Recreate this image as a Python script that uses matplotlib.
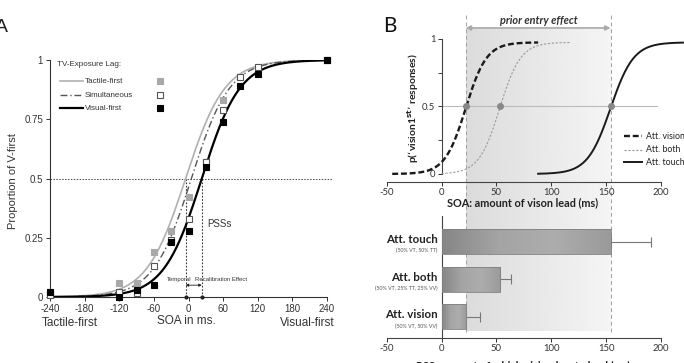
import matplotlib.pyplot as plt
import matplotlib.transforms as mtransforms
from matplotlib.colors import LinearSegmentedColormap
import numpy as np

plt.rcParams['font.family'] = ['Liberation Sans', 'DejaVu Sans']
plt.rcParams['axes.unicode_minus'] = False

# panel A: observed proportions per SOA
soa = [-240, -120, -90, -60, -30, 0, 30, 60, 90, 120, 240]
tactile_first = [0.02, 0.06, 0.06, 0.19, 0.28, 0.42, 0.57, 0.83, 0.93, 0.97, 1.0]
simultaneous = [0.01, 0.02, 0.015, 0.13, 0.24, 0.33, 0.57, 0.79, 0.93, 0.97, 1.0]
visual_first = [0.02, 0.0, 0.03, 0.05, 0.23, 0.28, 0.55, 0.74, 0.89, 0.94, 1.0]
lag_names = ['Tactile-first', 'Simultaneous', 'Visual-first']
pss_a = [-5, 5, 23]
spread_a = [34, 33, 33]

# panel B: PSS per attention condition
conditions = ['Att. vision', 'Att. both', 'Att. touch']
cond_sub = ['(50% VT, 50% VV)', '(50% VT, 25% TT, 25% VV)', '(50% VT, 50% TT)']
pss_b = [22, 53, 154]
err_b = [13, 10, 37]
spread_b = [9.5, 9.5, 10.5]
curve_from = [-45, 0, 88]
curve_to = [88, 118, 220]


def logistic(x, mu, s, top=1.0):
    return top / (1 + np.exp(-(x - mu) / s))


fig = plt.figure(figsize=(6.84, 3.63), dpi=100)

# ---------------- panel A ----------------
ax = fig.add_axes([0.0731, 0.1818, 0.405, 0.6529])
ax.set_xlim(-240, 240)
ax.set_ylim(0, 1)
for s in ['top', 'right']:
    ax.spines[s].set_visible(False)
for s in ['left', 'bottom']:
    ax.spines[s].set_linewidth(0.8)
    ax.spines[s].set_color('#333333')
ax.set_xticks(range(-240, 241, 60))
ax.set_yticks([0, 0.25, 0.5, 0.75, 1])
ax.set_yticklabels(['0', '0.25', '0.5', '0.75', '1'])
ax.tick_params(labelsize=7, colors='#333333', length=3, width=0.7, pad=2)

xs = np.linspace(-240, 240, 400)
styles = [dict(color='#b0b0b0', lw=1.2, ls='-'),
          dict(color='#555555', lw=1.0, ls=(0, (5, 2, 1, 2))),
          dict(color='black', lw=1.6, ls='-')]
mstyles = [dict(marker='s', color='#a8a8a8', mfc='#a8a8a8', mec='#a8a8a8'),
           dict(marker='s', color='#555555', mfc='white', mec='#555555'),
           dict(marker='s', color='black', mfc='black', mec='black')]
data_a = [tactile_first, simultaneous, visual_first]
for i in range(3):
    ax.plot(xs, logistic(xs, pss_a[i], spread_a[i]), zorder=3, **styles[i])
    ax.plot(soa, data_a[i], ls='none', ms=4, mew=0.8, clip_on=False, zorder=4, **mstyles[i])

ax.plot([-240, 248], [0.5, 0.5], ls=(0, (1.5, 1.5)), color='#444444', lw=0.7, clip_on=False)
for p in [pss_a[0], pss_a[2]]:
    ax.plot([p, p], [0, 0.5], ls=(0, (1.5, 1.5)), color='#333333', lw=0.8)
    ax.plot([p], [0], marker='o', ms=2, color='#222222', clip_on=False, zorder=5)
ax.annotate('', xy=(pss_a[2], 0.05), xytext=(pss_a[0], 0.05),
            arrowprops=dict(arrowstyle='<|-|>', color='#222222', lw=0.6,
                            mutation_scale=4, shrinkA=0, shrinkB=0))
ax.text(-38, 0.075, 'Temporal', fontsize=4.3, color='#333333', va='center')
ax.text(12, 0.075, 'Recalibration Effect', fontsize=4.3, color='#333333', va='center')
ax.text(33, 0.31, 'PSSs', fontsize=7, color='#333333', va='center')

# legend drawn by hand
ax.text(-228, 0.979, 'TV-Exposure Lag:', fontsize=5.8, color='#333333', va='center')
for i, yy in enumerate([0.911, 0.852, 0.797]):
    ax.plot([-222, -183], [yy, yy], **styles[i])
    ax.text(-180, yy, lag_names[i], fontsize=5.8, color='#333333', va='center')
    ax.plot([-49], [yy], ms=4, mew=0.8, **mstyles[i])

fig.text(13 / 684, 1 - 181 / 363, 'Proportion of V-first', rotation=90,
         fontsize=8, color='#333333', ha='center', va='center')
fig.text(186 / 684, 1 - 321 / 363, 'SOA in ms.', fontsize=8.5, color='#333333',
         ha='center', va='center')
fig.text(42 / 684, 1 - 323 / 363, 'Tactile-first', fontsize=8.5, color='#333333', va='center')
fig.text(335 / 684, 1 - 323 / 363, 'Visual-first', fontsize=8.5, color='#333333',
         ha='right', va='center')
fig.text(-5 / 684, 1 - 27 / 363, 'A', fontsize=14, color='#222222', va='center')

# ---------------- panel B ----------------
bfont = ['Lato', 'DejaVu Sans']
axt = fig.add_axes([0.5654, 0.5207, 0.401, 0.3719], zorder=2)
axb = fig.add_axes([0.5654, 0.0689, 0.401, 0.336], zorder=2)
for a in [axt, axb]:
    a.set_facecolor('none')
    for s in ['top', 'right']:
        a.spines[s].set_visible(False)
    a.spines['left'].set_position(('data', 0))
    a.spines['left'].set_linewidth(0.8)
    a.spines['bottom'].set_linewidth(0.8)
    a.spines['left'].set_color('#444444')
    a.spines['bottom'].set_color('#444444')
    a.set_xticks(range(-50, 201, 50))
    a.tick_params(labelsize=6.8, colors='#333333', length=3, width=0.7, pad=1.5)

# top: psychometric curves
axt.spines['bottom'].set_position(('outward', 5.5))
axt.spines['left'].set_bounds(0, 1)
axt.set_yticks([0, 0.5, 1])
axt.set_yticklabels(['0', '0.5', '1'])
axt.set_yticks([0.25, 0.75], minor=True)
axt.tick_params(axis='y', which='minor', length=3, width=0.7, colors='#444444')

bstyles = [dict(color='#1a1a1a', lw=1.7, ls=(0, (2.5, 1.2))),
           dict(color='#9a9a9a', lw=0.8, ls=(0, (2, 1.5))),
           dict(color='#1a1a1a', lw=1.4, ls='-')]
axt.plot([0, 196], [0.5, 0.5], color='#bbbbbb', lw=0.8, clip_on=False, zorder=1)
for i in range(3):
    xx = np.linspace(curve_from[i], curve_to[i], 300)
    axt.plot(xx, logistic(xx, pss_b[i], spread_b[i], 0.975), clip_on=False, zorder=3, **bstyles[i])
    axt.plot([pss_b[i]], [0.5], marker='o', ms=4, color='#888888', zorder=4)
for i, yy in enumerate([0.281, 0.18, 0.087]):
    axt.plot([166, 183], [yy, yy], **bstyles[i])
    axt.text(186, yy, conditions[i], fontsize=6.3, family=bfont, color='#222222', va='center')
axt.set_xlim(-50, 200)
axt.set_ylim(0, 1)

fig.text(413 / 684, 1 - 108 / 363, 'p(\u2018vision1$^{\\mathbf{st}}$\u2019 responses)', rotation=90,
         fontsize=7.5, fontweight='bold', family=bfont, color='#222222', ha='center', va='center')
fig.text(523 / 684, 1 - 203 / 363, 'SOA: amount of vison lead (ms)', fontsize=7.8,
         fontweight='bold', family=bfont, color='#222222', ha='center', va='center')

# bottom: PSS bars with a grey shading inside
ypos = np.arange(3)
bar_cmap = LinearSegmentedColormap.from_list('bar', ['#868686', '#a4a4a4', '#adadad', '#9a9a9a'])
bars = axb.barh(ypos, pss_b, height=0.67, color='none', edgecolor='#808080', lw=0.6, zorder=4)
for b in bars:
    im = axb.imshow(np.linspace(0, 1, 256).reshape(1, -1), cmap=bar_cmap, aspect='auto',
                    extent=[b.get_x(), b.get_x() + b.get_width(), b.get_y(), b.get_y() + b.get_height()],
                    zorder=3)
    im.set_clip_path(b)
axb.errorbar(np.array(pss_b), ypos, xerr=[np.zeros(3), err_b], fmt='none',
             ecolor='#777777', elinewidth=0.8, capsize=3.5, capthick=0.8, zorder=2)
for i in range(3):
    axb.text(-3.6, ypos[i] + 0.05, conditions[i], fontsize=8.3, fontweight='bold', family=bfont,
             color='#222222', ha='right', va='center')
    axb.text(-3.6, ypos[i] - 0.25, cond_sub[i], fontsize=3.8, family=bfont,
             color='#555555', ha='right', va='center')
axb.set_xlim(-50, 200)
axb.set_ylim(-0.568, 2.68)
axb.set_yticks([])
axb.spines['bottom'].set_bounds(-50, 200)
fig.text(523 / 684, -0.008, 'PSS: amount of which vision has to lead (ms)', fontsize=7.8,
         fontweight='bold', family=bfont, color='#222222', ha='center', va='center')
for a in [axt, axb]:
    for lab in a.get_xticklabels() + a.get_yticklabels():
        lab.set_family(bfont)

# shaded prior-entry region between the vision and touch PSS
to_fig = fig.transFigure.inverted()
fx0 = to_fig.transform(axt.transData.transform((pss_b[0], 0)))[0]
fx1 = to_fig.transform(axt.transData.transform((pss_b[2], 0)))[0]
bg = fig.add_axes([fx0, 0.088, fx1 - fx0, 0.923 - 0.088], zorder=0)
grad = np.linspace(0.86, 0.96, 256).reshape(1, -1)
bg.imshow(grad, cmap='gray', vmin=0, vmax=1, aspect='auto')
bg.axis('off')

blend = mtransforms.blended_transform_factory(axt.transData, fig.transFigure)
for p in [pss_b[0], pss_b[2]]:
    axt.plot([p, p], [0.085, 0.964], transform=blend, color='#a0a0a0', lw=0.7,
             ls=(0, (4, 3)), clip_on=False, zorder=1)
axt.annotate('', xy=(pss_b[2], 0.923), xytext=(pss_b[0], 0.923), xycoords=blend,
             textcoords=blend,
             arrowprops=dict(arrowstyle='<|-|>', color='#aaaaaa', lw=1.2,
                             mutation_scale=7, shrinkA=0, shrinkB=0))
fig.text(539 / 684, 1 - 21 / 363, 'prior entry effect', fontsize=7.8, fontweight='bold',
         style='italic', family=bfont, color='#333333', ha='center', va='center')
fig.text(383 / 684, 1 - 26 / 363, 'B', fontsize=15, family=bfont, color='#111111', va='center')

fig.savefig('out.png', dpi=100)
